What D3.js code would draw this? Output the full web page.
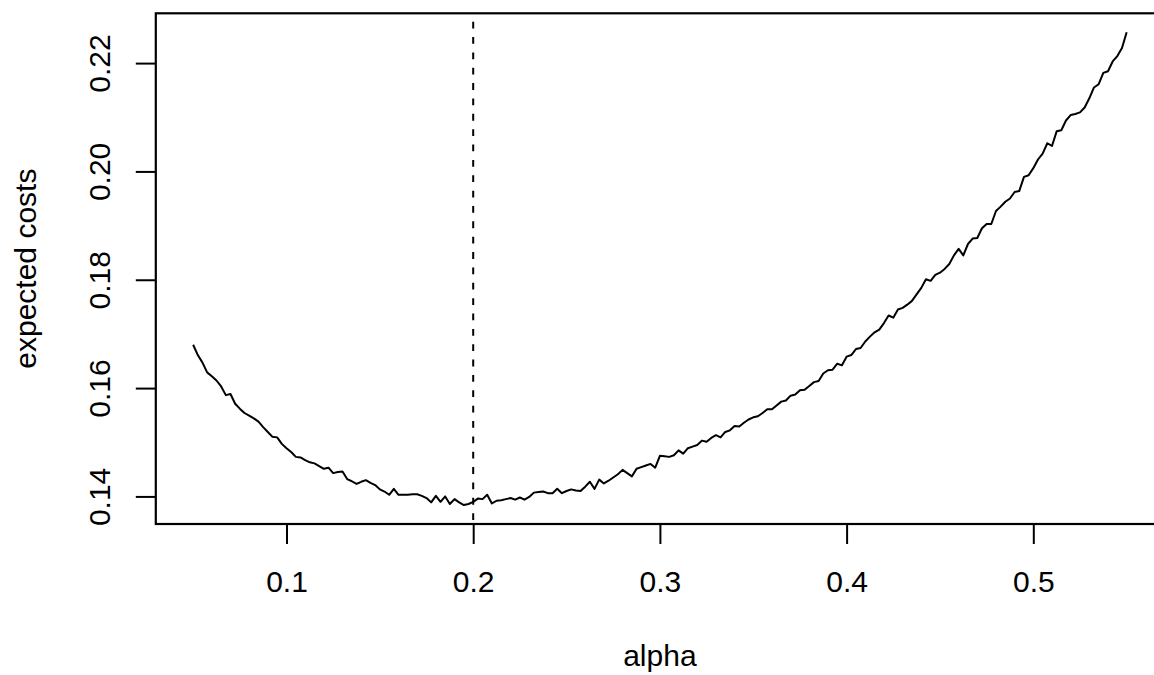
<!DOCTYPE html>
<html><head><meta charset="utf-8">
<script src="https://cdn.jsdelivr.net/npm/d3@7"></script>
<style>
body{margin:0;background:#fff;overflow:hidden}
text{font-family:"Liberation Sans",Arial,Helvetica,sans-serif;fill:#000}
</style>
</head><body>
<svg id="chart" width="1154" height="675"></svg>
<script>
// ---- data (alpha grid 0.05 .. 0.55 by 0.0025) ----
const alphaFrom = 0.05, alphaTo = 0.55, alphaStep = 0.0025;
const costs = [
0.1680,0.1661,0.1647,0.1629,0.1622,0.1614,0.1603,0.1587,0.1589,0.1571,
0.1562,0.1554,0.1549,0.1544,0.1538,0.1528,0.1519,0.1510,0.1509,0.1497,
0.1489,0.1482,0.1473,0.1472,0.1467,0.1463,0.1461,0.1456,0.1451,0.1453,
0.1443,0.1445,0.1446,0.1432,0.1428,0.1423,0.1427,0.1430,0.1425,0.1421,
0.1413,0.1409,0.1403,0.1414,0.1403,0.1403,0.1403,0.1404,0.1404,0.1401,
0.1397,0.1389,0.1401,0.1390,0.1400,0.1386,0.1395,0.1389,0.1384,0.1386,
0.1390,0.1396,0.1395,0.1403,0.1387,0.1392,0.1393,0.1395,0.1397,0.1394,
0.1398,0.1394,0.1399,0.1407,0.1408,0.1409,0.1406,0.1406,0.1414,0.1406,
0.1410,0.1413,0.1411,0.1410,0.1418,0.1427,0.1414,0.1431,0.1424,0.1429,
0.1435,0.1441,0.1449,0.1443,0.1437,0.1451,0.1454,0.1457,0.1460,0.1453,
0.1475,0.1474,0.1473,0.1476,0.1485,0.1479,0.1489,0.1492,0.1495,0.1503,
0.1501,0.1508,0.1513,0.1509,0.1519,0.1522,0.1530,0.1529,0.1536,0.1542,
0.1546,0.1548,0.1554,0.1561,0.1561,0.1568,0.1575,0.1577,0.1586,0.1588,
0.1596,0.1597,0.1604,0.1611,0.1613,0.1627,0.1633,0.1634,0.1645,0.1642,
0.1658,0.1661,0.1672,0.1674,0.1686,0.1695,0.1703,0.1708,0.1720,0.1734,
0.1730,0.1745,0.1748,0.1754,0.1761,0.1773,0.1785,0.1801,0.1798,0.1809,
0.1813,0.1820,0.1829,0.1845,0.1857,0.1845,0.1866,0.1876,0.1877,0.1895,
0.1903,0.1903,0.1927,0.1935,0.1944,0.1950,0.1962,0.1964,0.1990,0.1993,
0.2006,0.2022,0.2033,0.2052,0.2047,0.2074,0.2076,0.2094,0.2104,0.2106,
0.2109,0.2118,0.2135,0.2155,0.2161,0.2182,0.2185,0.2203,0.2213,0.2228,
0.2257
];
const xTicks = [0.1, 0.2, 0.3, 0.4, 0.5];
const xTickLabels = ["0.1", "0.2", "0.3", "0.4", "0.5"];
const yTicks = [0.14, 0.16, 0.18, 0.20, 0.22];
const yTickLabels = ["0.14", "0.16", "0.18", "0.20", "0.22"];
const optimalAlpha = 0.2;
const xTitle = "alpha";
const yTitle = "expected costs";

(function () {
// ---- layout ----
const W = 1154, H = 675;
const pLeft = 155.8, pRight = 1164, pTop = 13.3, pBottom = 524;
const fontSize = 30, tickLen = 20;

const alphas = d3.range(costs.length).map(i => +(alphaFrom + i * alphaStep).toFixed(4));
const data = alphas.map((a, i) => ({a, c: costs[i]}));

// R-style 4% axis extension
function rExtend([lo, hi]) { const r = hi - lo; return [lo - 0.04 * r, hi + 0.04 * r]; }
const x = d3.scaleLinear().domain(rExtend([alphaFrom, alphaTo])).range([pLeft, pRight]);
const y = d3.scaleLinear().domain(rExtend(d3.extent(costs))).range([pBottom, pTop]);

const svg = d3.select("#chart");
svg.append("rect").attr("width", W).attr("height", H).attr("fill", "#fff");

// dashed vertical line at optimum
svg.append("line")
  .attr("x1", x(optimalAlpha)).attr("x2", x(optimalAlpha))
  .attr("y1", pBottom).attr("y2", pTop)
  .attr("stroke", "#000").attr("stroke-width", 2)
  .attr("stroke-dasharray", "6.8 8.56").attr("stroke-dashoffset", 11.36);

// curve
svg.append("path").datum(data)
  .attr("fill", "none").attr("stroke", "#000").attr("stroke-width", 2)
  .attr("stroke-linejoin", "round")
  .attr("d", d3.line().x(d => x(d.a)).y(d => y(d.c)));

// box
svg.append("rect")
  .attr("x", pLeft).attr("y", pTop).attr("width", pRight - pLeft).attr("height", pBottom - pTop)
  .attr("fill", "none").attr("stroke", "#000").attr("stroke-width", 2.2);

// x axis
const gx = svg.append("g").attr("transform", `translate(0,${pBottom})`)
  .call(d3.axisBottom(x).tickValues(xTicks).tickSize(tickLen).tickPadding(0)
        .tickFormat((d, i) => xTickLabels[i]));
gx.select(".domain").remove();
gx.attr("font-family", null).attr("font-size", null);
gx.selectAll(".tick line").attr("stroke", "#000").attr("stroke-width", 2);
gx.selectAll(".tick text").attr("font-size", fontSize)
  .attr("dy", null).attr("y", 592 - pBottom);

// y axis
const gy = svg.append("g").attr("transform", `translate(${pLeft},0)`)
  .call(d3.axisLeft(y).tickValues(yTicks).tickSize(tickLen).tickPadding(0)
        .tickFormat((d, i) => yTickLabels[i]));
gy.select(".domain").remove();
gy.attr("font-family", null).attr("font-size", null);
gy.selectAll(".tick line").attr("stroke", "#000").attr("stroke-width", 2);
gy.selectAll(".tick text").attr("font-size", fontSize)
  .attr("x", null).attr("dy", null)
  .attr("text-anchor", "middle")
  .attr("transform", `translate(${110 - pLeft},0) rotate(-90)`);

// titles
svg.append("text").attr("x", (pLeft + pRight) / 2).attr("y", 666)
  .attr("text-anchor", "middle").attr("font-size", fontSize).text(xTitle);
svg.append("text")
  .attr("transform", `translate(36,${(pTop + pBottom) / 2}) rotate(-90)`)
  .attr("text-anchor", "middle").attr("font-size", fontSize).text(yTitle);
})();
</script>
</body></html>
